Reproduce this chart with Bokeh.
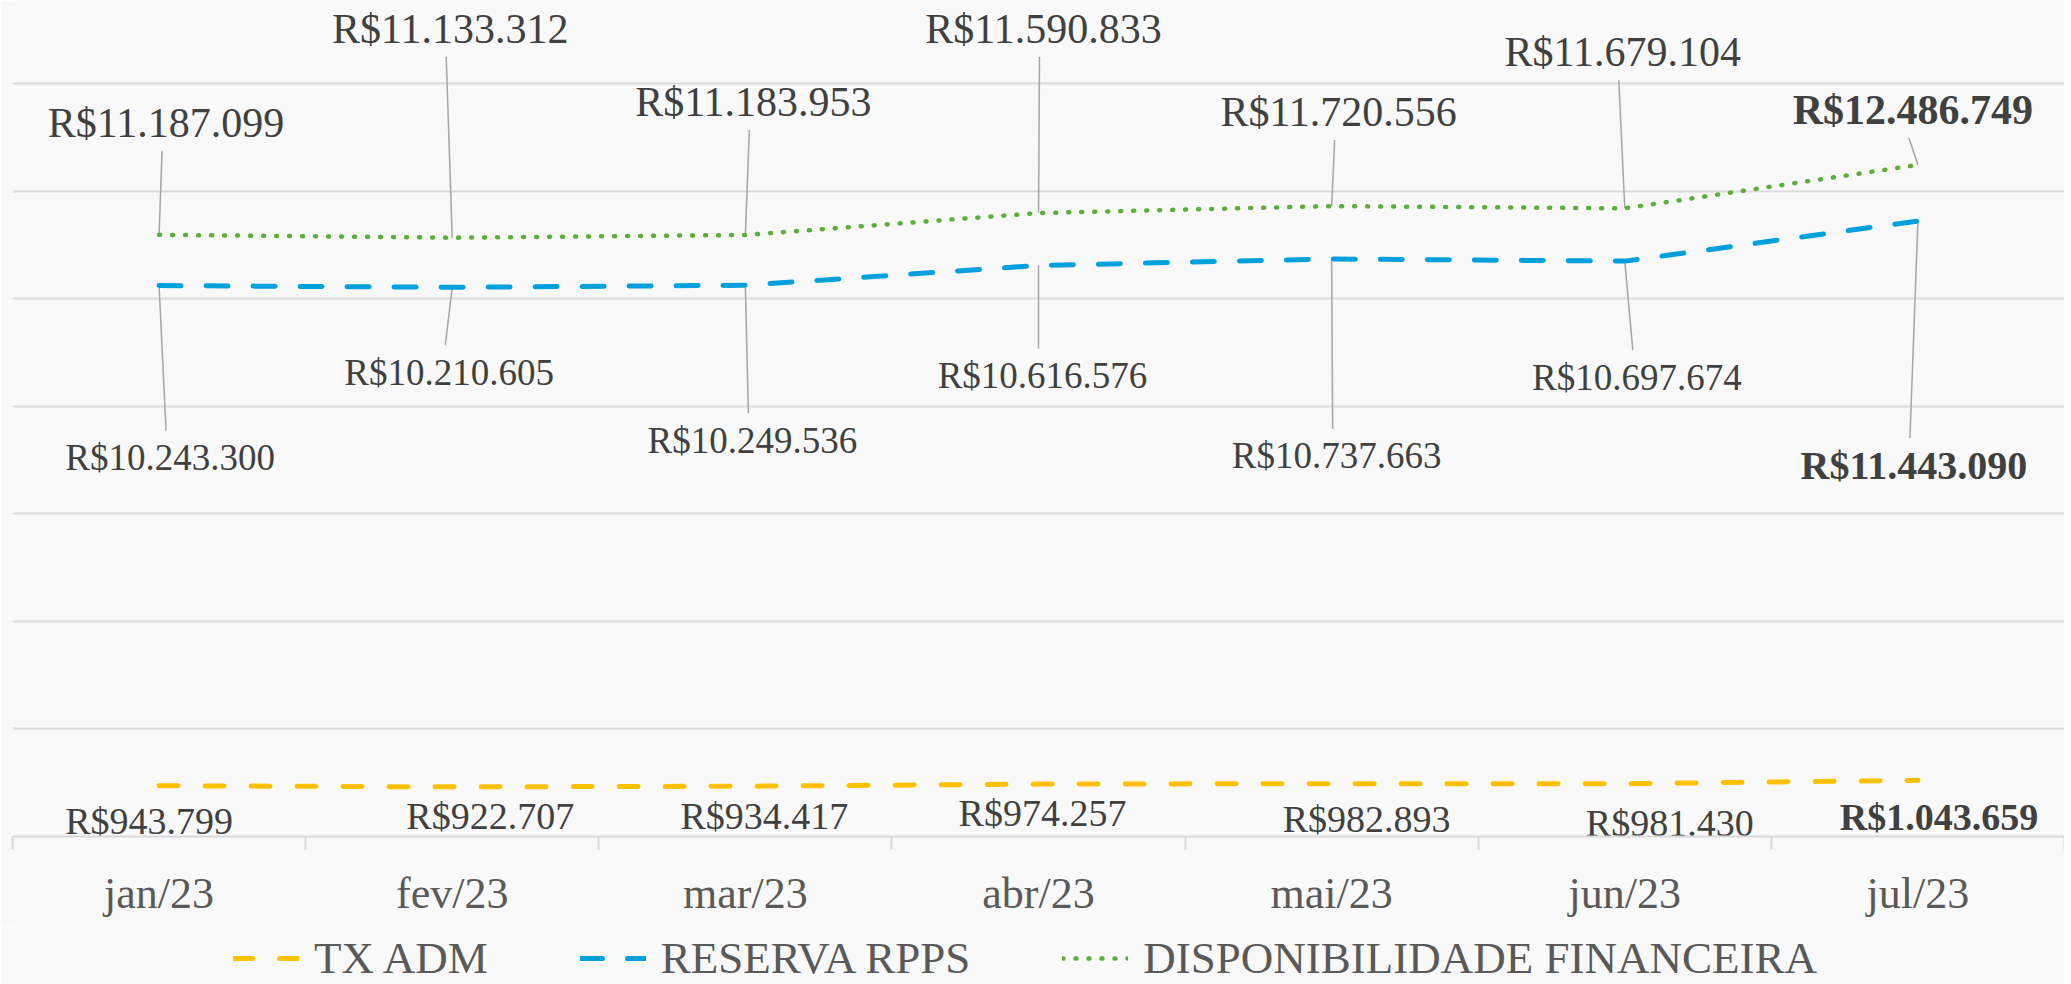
from bokeh.plotting import figure
from bokeh.models import (Range1d, FixedTicker, Grid, Legend, LegendItem,
                          ColumnDataSource)
from bokeh.layouts import column
from bokeh.embed import file_html
from bokeh.resources import INLINE
from bokeh.core.properties import value

# ---------------- data ----------------
months = ["jan/23", "fev/23", "mar/23", "abr/23", "mai/23", "jun/23", "jul/23"]
tx_adm = [943799, 922707, 934417, 974257, 982893, 981430, 1043659]
reserva = [10243300, 10210605, 10249536, 10616576, 10737663, 10697674, 11443090]
disponibilidade = [11187099, 11133312, 11183953, 11590833, 11720556, 11679104, 12486749]
series_names = ["TX ADM", "RESERVA RPPS", "DISPONIBILIDADE FINANCEIRA"]
grid_values = [2e6, 4e6, 6e6, 8e6, 10e6, 12e6, 14e6]

# ---------------- layout / style ----------------
FRAME_W, FRAME_H = 2052, 836
BOTTOM = 90
LEG_H = 984 - FRAME_H - BOTTOM
Y_MAX = 14e6 * 836 / 753
BG = "#f9f9f9"
FONT = "Liberation Serif"
C_YEL, C_BLUE, C_GREEN = "#FFC000", "#00A0DC", "#5BAE3A"
GRID_C = "#d9d9d9"
LABEL_C = "#404040"

# label offsets in screen pixels (dx right, dy up)
green_dx = [7, -2, 8, 5, 7, -2, -5]
green_dy = [112, 209, 133, 184, 94, 156, 55]
blue_dx = [11, -3, 7, 4, 5, 12, -4]
blue_dy = [-172, -85, -155, -110, -197, -116, -244]
yel_dx = [-10, 38, 19, 4, 35, 45, 21]
yel_dy = [-35, -29, -30, -29, -35, -39, -37]

n = len(months)
xs = [i + 0.5 for i in range(n)]
ppx = FRAME_W / n
ppy = FRAME_H / Y_MAX

STY = {
    "tx": dict(line_color=C_YEL, line_width=5, line_dash="19 27", line_cap="round"),
    "res": dict(line_color=C_BLUE, line_width=5, line_dash="22 25", line_cap="round"),
    "disp": dict(line_color=C_GREEN, line_width=4.5, line_dash="1 12", line_cap="round"),
}


def fmt(v):
    return "R$" + f"{v:,}".replace(",", ".")


p = figure(frame_width=FRAME_W, frame_height=FRAME_H,
           x_range=Range1d(0, n), y_range=Range1d(0, Y_MAX),
           y_axis_type=None, output_backend="svg", toolbar_location=None,
           min_border_left=12, min_border_right=0, min_border_top=0,
           min_border_bottom=BOTTOM, background_fill_color=BG,
           border_fill_color=BG, outline_line_color=None)

p.xgrid.visible = False
p.add_layout(Grid(dimension=1, ticker=FixedTicker(ticks=grid_values),
                  grid_line_color=GRID_C, grid_line_width=2))

ax = p.xaxis[0]
ax.ticker = FixedTicker(ticks=xs, minor_ticks=list(range(n + 1)))
ax.major_label_overrides = {x: m for x, m in zip(xs, months)}
ax.major_tick_out = 0
ax.major_tick_in = 0
ax.minor_tick_out = 13
ax.minor_tick_in = 0
ax.minor_tick_line_color = GRID_C
ax.minor_tick_line_width = 2
ax.axis_line_color = GRID_C
ax.axis_line_width = 2
ax.major_label_text_font = FONT
ax.major_label_text_font_size = "44px"
ax.major_label_text_color = "#595959"
ax.major_label_standoff = 19

# leader lines
lead_x0, lead_y0, lead_x1, lead_y1 = [], [], [], []
for i in range(n):
    lead_x0.append(xs[i]); lead_y0.append(disponibilidade[i])
    lead_x1.append(xs[i] + (green_dx[i] - 4) / ppx)
    lead_y1.append(disponibilidade[i] + (green_dy[i] - 28) / ppy)
    lead_x0.append(xs[i]); lead_y0.append(reserva[i])
    lead_x1.append(xs[i] + (blue_dx[i] - 4) / ppx)
    lead_y1.append(reserva[i] + (blue_dy[i] + 27) / ppy)
p.segment(lead_x0, lead_y0, lead_x1, lead_y1, line_color="#a6a6a6", line_width=1.5)

p.line(xs, tx_adm, **STY["tx"])
p.line(xs, reserva, **STY["res"])
p.line(xs, disponibilidade, **STY["disp"])


def add_labels(vals, dx, dy, size_reg, size_bold):
    src = ColumnDataSource(dict(
        x=xs, y=vals, text=[fmt(v) for v in vals],
        xo=dx, yo=[-d for d in dy],
        style=["normal"] * (n - 1) + ["bold"],
        size=[size_reg] * (n - 1) + [size_bold],
    ))
    p.text(x="x", y="y", text="text", x_offset="xo", y_offset="yo", source=src,
           text_font=value(FONT), text_font_size="size", text_font_style="style",
           text_color=LABEL_C, text_align="center", text_baseline="middle")


add_labels(disponibilidade, green_dx, green_dy, "42px", "42px")
add_labels(reserva, blue_dx, blue_dy, "37px", "40px")
add_labels(tx_adm, yel_dx, yel_dy, "38px", "38px")

# ---------------- legend strip ----------------
p2 = figure(frame_width=FRAME_W, frame_height=LEG_H,
            x_range=Range1d(0, 1), y_range=Range1d(0, 1),
            x_axis_type=None, y_axis_type=None, output_backend="svg",
            toolbar_location=None, min_border_left=12, min_border_right=0,
            min_border_top=0, min_border_bottom=0, background_fill_color=BG,
            border_fill_color=BG, outline_line_color=None)
p2.xgrid.visible = False
p2.ygrid.visible = False
# legend proxies, kept outside the visible range of the strip
k_tx = p2.line([-3, -2], [-3, -3], **STY["tx"])
k_res = p2.line([-3, -2], [-3, -3], **STY["res"])
k_disp = p2.line([-3, -2], [-3, -3], **STY["disp"])

legend = Legend(items=[LegendItem(label=series_names[0], renderers=[k_tx]),
                       LegendItem(label=series_names[1], renderers=[k_res]),
                       LegendItem(label=series_names[2], renderers=[k_disp])],
                orientation="horizontal", location=(221, -2),
                label_text_font=FONT, label_text_font_size="45px",
                label_text_color="#595959", glyph_width=66, glyph_height=56,
                label_height=56, label_standoff=15, spacing=92, padding=0,
                margin=0, border_line_color=None, background_fill_alpha=0)
p2.add_layout(legend, "center")

layout = column(p, p2, spacing=0)
open("out.html", "w").write(file_html(layout, INLINE))
